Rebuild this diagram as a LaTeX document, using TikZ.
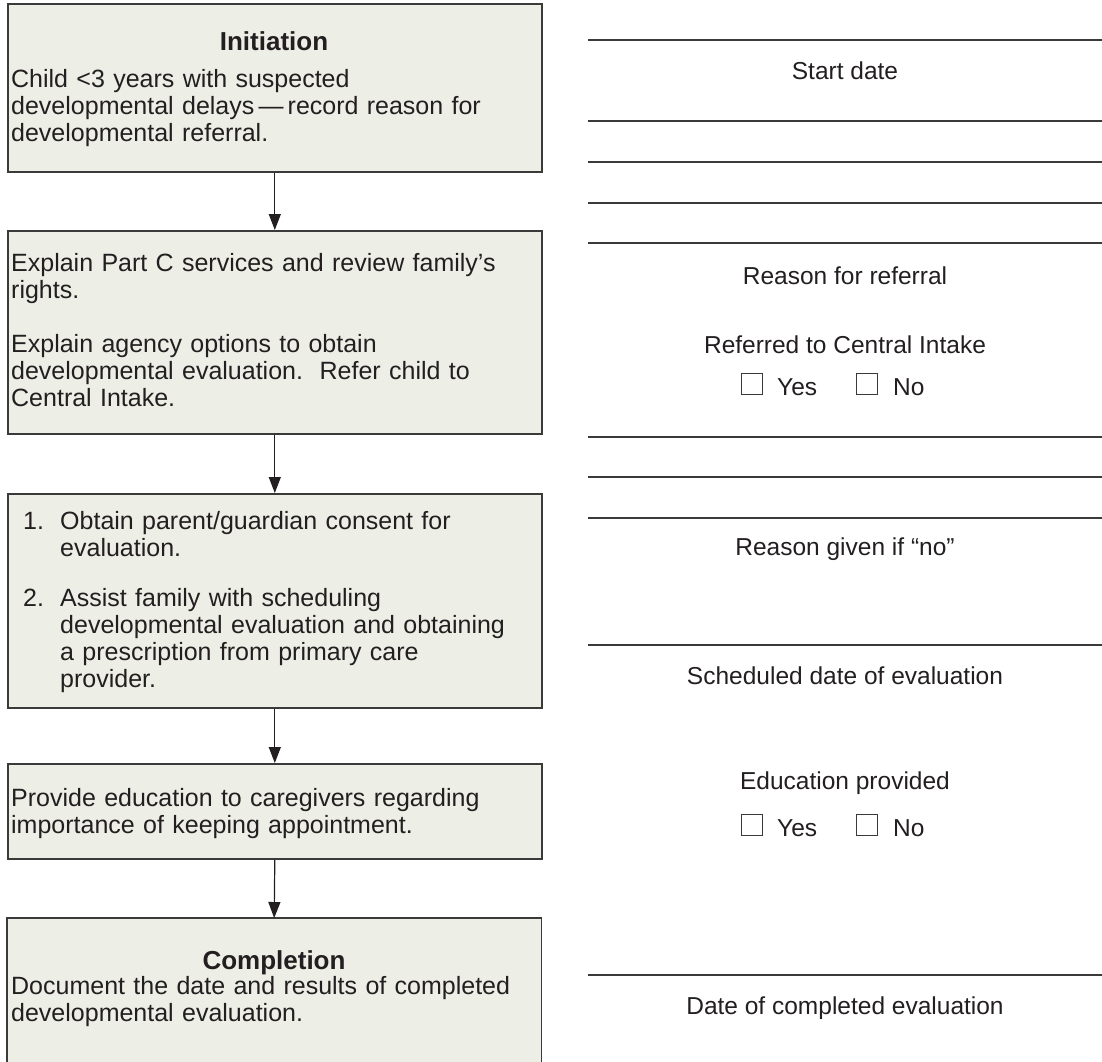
\documentclass[tikz,border=0pt]{standalone}
\usepackage{fontspec}
\setmainfont{Liberation Sans}
\usetikzlibrary{arrows.meta}
\definecolor{boxfill}{HTML}{EDEEE6}
\definecolor{ink}{HTML}{231F20}
\definecolor{edge}{HTML}{3A3A3A}
\begin{document}
\begin{tikzpicture}[x=1pt,y=-1pt,
  box/.style={fill=boxfill,anchor=north west,inner sep=0pt,minimum width=534pt},
  boxline/.style={draw=edge,line width=1.6pt},
  txt/.style={anchor=base west,inner sep=0pt,text=ink,font=\fontsize{25}{27}\selectfont,text width=525pt,align=left},
  ttl/.style={anchor=base,inner sep=0pt,text=ink,font=\fontsize{26}{27}\selectfont\bfseries},
  lbl/.style={anchor=base,inner sep=0pt,text=ink,font=\fontsize{24.5}{27}\selectfont},
  arr/.style={draw=ink,line width=1.2pt,-{Triangle[length=16pt,width=12pt]}},
  rule/.style={draw=edge,line width=1.4pt},
  chk/.style={draw=edge,line width=1pt,inner sep=0pt,minimum size=21pt,anchor=south west}
]
\useasboundingbox (0,0) rectangle (1102,1061);
% boxes
\node[box,boxline,minimum height=168pt] (b1) at (7,3) {};
\node[box,boxline,minimum height=203pt] (b2) at (7,230) {};
\node[box,boxline,minimum height=214pt] (b3) at (7,493) {};
\node[box,boxline,minimum height=95pt] (b4) at (7,763) {};
\node[box,minimum height=150pt] (b5) at (7,918) {};
\draw[boxline] (b5.south west) -- (b5.north west) -- (b5.north east) -- (b5.south east);
% arrows
\draw[arr] (b1.south) -- (b2.north);
\draw[arr] (b2.south) -- (b3.north);
\draw[arr] (b3.south) -- (b4.north);
\draw[arr] (b4.south) -- (b5.north);
% box 1
\node[ttl] (t1) at (274,50) {Initiation};
\node[txt] (p1) at (11,87) {Child <3 years with suspected\\developmental delays\,—\,record reason for\\developmental referral.};
% box 2
\node[txt] (p2a) at (11,271) {Explain Part C services and review family’s\\rights.};
\node[txt] (p2b) at (11,352) {Explain agency options to obtain\\developmental evaluation.\ \ Refer child to\\Central Intake.};
% box 3
\node[lbl,anchor=base west,font=\fontsize{25}{27}\selectfont] (n1) at (23,529) {1.};
\node[txt,text width=480pt] (p3a) at (60,529) {Obtain parent/guardian consent for\\evaluation.};
\node[lbl,anchor=base west,font=\fontsize{25}{27}\selectfont] (n2) at (23,606) {2.};
\node[txt,text width=480pt] (p3b) at (60,606) {Assist family with scheduling\\developmental evaluation and obtaining\\a prescription from primary care\\provider.};
% box 4
\node[txt] (p4) at (11,806) {Provide education to caregivers regarding\\importance of keeping appointment.};
% box 5
\node[ttl] (t5) at (274,969) {Completion};
\node[txt] (p5) at (11,994) {Document the date and results of completed\\developmental evaluation.};
% right side rules
\foreach \yy in {40,121,162,203,243,437,477,518,645,975}
  \draw[rule] (588,\yy) -- (1102,\yy);
% right side labels
\node[lbl] (l1) at (845,79) {Start date};
\node[lbl] (l2) at (845,284) {Reason for referral};
\node[lbl] (l3) at (845,353) {Referred to Central Intake};
\node[chk] (c1) at (741,395) {};
\node[lbl,anchor=base west] (y1) at (777,395) {Yes};
\node[chk] (c2) at (856,395) {};
\node[lbl,anchor=base west] (n1b) at (893,395) {No};
\node[lbl] (l4) at (845,555) {Reason given if “no”};
\node[lbl] (l5) at (845,684) {Scheduled date of evaluation};
\node[lbl] (l6) at (845,789) {Education provided};
\node[chk] (c3) at (741,836) {};
\node[lbl,anchor=base west] (y2) at (777,836) {Yes};
\node[chk] (c4) at (856,836) {};
\node[lbl,anchor=base west] (n2b) at (893,836) {No};
\node[lbl] (l7) at (845,1014) {Date of completed evaluation};
\end{tikzpicture}
\end{document}
